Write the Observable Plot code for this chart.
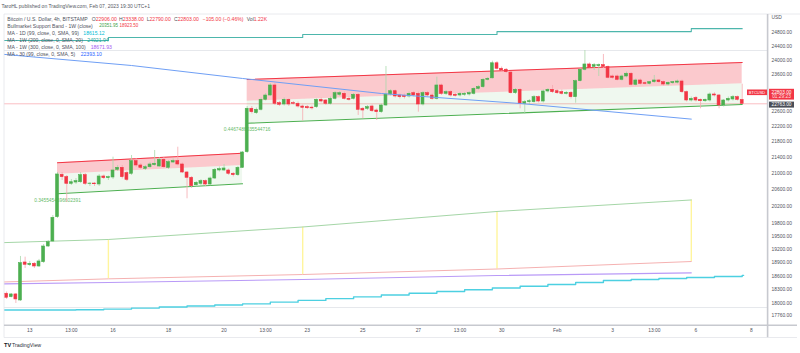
<!DOCTYPE html>
<html>
<head>
<meta charset="utf-8">
<script src="https://cdn.jsdelivr.net/npm/d3@7"></script>
<script src="https://cdn.jsdelivr.net/npm/@observablehq/plot@0.6"></script>
<style>
html,body{margin:0;padding:0;background:#ffffff;}
#chart{width:800px;height:353px;overflow:hidden;}
svg{display:block;}
</style>
</head>
<body>
<div id="chart"></div>
<script>
// ---------------- DATA ----------------
// BTC/USD 4h candles (BITSTAMP), first candle Jan 12 2023 04:00 UTC, one every 4 hours
const firstCandle = "2023-01-12T04:00Z";
const opens = [
18216,18143,18201,18072,18902,18842,18873,18813,18909,19263,
19377,19942,20967,20908,20745,20776,20784,20957,20740,20750,
20728,20925,20883,20900,21091,21141,21007,20992,21307,21199,
21116,21156,21207,21174,21343,21141,21274,21307,21224,21024,
20893,20710,20745,20809,20728,20875,21074,21074,21074,20992,
20957,21141,21535,22669,22551,22642,22911,23028,23302,22819,
22784,22911,22819,22803,22730,22712,22700,22712,22911,22892,
22803,22938,23047,23073,22938,22938,23047,22669,22669,22730,
22623,22578,22757,23055,23145,23028,23020,23001,23091,23073,
22784,23091,23028,22938,23302,23074,23118,23047,23028,23047,
23055,23073,23210,23255,23459,23500,23922,23767,23740,23660,
23091,23183,22803,22846,22846,22982,22865,23137,23183,23145,
23118,23074,23100,22982,23421,23739,23888,23820,23840,23868,
23820,23551,23551,23459,23551,23627,23321,23440,23365,23348,
23393,23440,23393,23329,23366,23380,23412,23118,22892,22960,
22911,22873,22892,23055,23028,22757,22892,22919,22982,22906];
const highs = [
18255,18222,18222,19037,19021,18925,18902,18970,19309,19400,
19982,21024,21024,20950,20850,20875,21024,20999,20776,20776,
20975,20962,20937,21408,21199,21199,21049,21451,21375,21249,
21199,21275,21578,21401,21401,21325,21363,21662,21262,21049,
20925,20801,20850,20838,20912,21124,21162,21224,21111,21024,
21174,21553,22730,22730,22690,22960,23082,23357,23357,22865,
22960,22933,22865,22851,22771,22757,22744,22933,22960,22919,
22987,23137,23137,23123,22987,23082,23082,22703,22757,22771,
22664,22797,23831,23191,23178,23068,23068,23123,23137,23123,
23137,23137,23068,23532,23343,23164,23164,23082,23110,23110,
23137,23246,23302,23496,23523,23981,23970,23817,23775,23691,
23219,23219,22892,22919,23028,23014,23178,23219,23302,23191,
23178,23137,23137,23454,23775,24286,23930,23916,23902,24172,
23845,23593,23593,23593,23677,23663,23482,23482,23400,23412,
23579,23468,23426,23400,23412,23454,23454,23150,22987,23001,
22933,22933,23096,23101,23055,22919,22987,23028,23014,23338];
const lows = [
18094,18126,18008,18050,18769,18813,18769,18791,18880,19240,
19354,19911,20826,20292,20703,20727,20752,20703,20679,20679,
20679,20850,20826,20850,21049,20863,20801,20950,21149,21099,
21074,21124,21174,21149,21124,21099,21249,21187,20999,20381,
20630,20667,20703,20679,20691,20850,21037,21049,20950,20913,
20925,21124,21502,22530,22517,22610,22878,23000,22757,22730,
22744,22730,22771,22690,22339,22650,22637,22677,22824,22757,
22771,22905,23001,22905,22878,22905,22490,22402,22623,22570,
22357,22544,22730,23014,22960,22933,22933,22960,22987,22578,
22744,22987,22905,22905,23028,23028,22987,22987,22987,23001,
23014,23041,23178,23219,23426,23480,23733,23677,23635,23069,
23055,22669,22517,22784,22819,22824,22824,23096,23082,23055,
23041,23041,22933,22819,23398,23705,23761,23719,23551,23775,
23482,23468,23426,23426,23510,23288,23288,23316,23316,23316,
23357,23357,23288,23288,23329,23343,23082,22851,22851,22851,
22669,22838,22851,22987,22669,22717,22851,22878,22878,22790];
const closes = [
18130,18201,18094,18887,18851,18873,18813,18925,19263,19361,
19928,20975,20908,20745,20784,20809,20957,20745,20750,20735,
20925,20883,20908,21074,21141,20908,20843,21307,21199,21141,
21156,21224,21242,21343,21156,21282,21307,21224,21024,20893,
20686,20769,20809,20728,20875,21091,21107,21124,20992,20957,
21141,21527,22669,22578,22642,22911,23028,23302,22803,22776,
22911,22784,22803,22730,22695,22684,22680,22911,22865,22803,
22938,23091,23091,22938,22911,23047,22642,22623,22712,22605,
22578,22757,23055,23145,23001,22982,22985,23073,23028,22784,
23091,23028,22938,23302,23074,23118,23028,23020,23073,23073,
23091,23210,23255,23459,23487,23922,23767,23719,23672,23091,
23183,22803,22846,22873,22982,22865,23137,23183,23118,23091,
23074,23100,22982,23421,23739,23888,23794,23868,23868,23820,
23515,23515,23459,23551,23627,23321,23440,23348,23348,23393,
23440,23393,23329,23376,23393,23412,23118,22892,22938,22892,
22873,22911,23055,23028,22757,22892,22938,22982,22911,22803];

// Weekly indicator points (weekly closes)
const weeklyTimes = ["2023-01-12T00:00Z","2023-01-15T20:00Z","2023-01-22T20:00Z","2023-01-29T20:00Z","2023-02-05T20:00Z"];
const bandGreen = [19350, 19423, 19712, 20077, 20351.95];   // Bullmarket Support Band (SMA 20W)
const bandRed   = [18470, 18540, 18635, 18757, 18923.50];   // Bullmarket Support Band (EMA 21W)
const ma1w100   = [18430, 18460, 18526, 18613, 18671.93];   // MA 1W (300, close, 0, SMA, 100)
const ma1w20    = [24575, 24662, 24748, 24835, 24921.94];   // MA 1W (200, close, 0, SMA, 20)

// MA 1D (99) daily steps, first from Jan 12 16:00 UTC
const ma1dStart = "2023-01-12T16:00Z";
const ma1d = [17870,17870,17876,17889,17910,17932,17953,17976,17999,18036,18074,18111,18150,18189,
              18227,18264,18302,18341,18378,18417,18460,18504,18526,18548,18570,18593,18615.12];

// MA 30 (99, SMA 5)
const ma30Times  = ["2023-01-12T00:00Z","2023-01-16T16:00Z","2023-01-20T16:00Z","2023-01-25T16:00Z","2023-01-30T16:00Z","2023-02-05T20:00Z"];
const ma30Values = [24180, 23859, 23496, 23082, 22811, 22393.10];

// Parallel channel drawings
const channelStart  = ["2023-01-14T00:00Z", "2023-01-20T20:00Z"];
const channelEnd    = ["2023-01-20T16:00Z", "2023-02-07T16:00Z"];
const channelTop    = [[21267, 21509], [23468, 23944]];
const channelMid    = [[20982, 21199], [22873, 23349]];
const channelBottom = [[20502, 20745], [22286, 22784]];
const channelLabels = ["0.3455454696602391", "0.4467486035544716"];

// horizontal levels drawn on the chart
const horizontalLevels = [24286, 17922];

// axes
const priceTicks = [24800,24400,24000,23600,22600,22200,21800,21400,21000,20600,20200,19800,19500,19200,18900,18600,18300,18000,17760];
const timeTicks = ["2023-01-13T00:00Z","2023-01-14T12:00Z","2023-01-16T00:00Z","2023-01-18T00:00Z","2023-01-20T00:00Z","2023-01-21T12:00Z","2023-01-23T00:00Z","2023-01-25T00:00Z","2023-01-27T00:00Z","2023-01-28T12:00Z","2023-01-30T00:00Z","2023-02-01T00:00Z","2023-02-03T00:00Z","2023-02-04T12:00Z","2023-02-06T00:00Z","2023-02-08T00:00Z"];
const timeTickLabels = ["13","13:00","16","18","20","13:00","23","25","27","13:00","30","Feb","3","13:00","6","8"];
const priceAxisTop = 25342, priceAxisBottom = 17545;
const timeDomain = ["2023-01-13T00:00Z", "2023-02-08T00:00Z"];

// ---------------- BUILD ----------------
const HOUR = 3600e3;
const t0 = +new Date(firstCandle);
const candles = opens.map((o, i) => ({t: new Date(t0 + i*4*HOUR), o, h: highs[i], l: lows[i], c: closes[i]}));
const UP = "#4caf50", DOWN = "#f23645";
const last = candles[candles.length - 1];

const weekly = weeklyTimes.map((s, i) => ({t: new Date(s), g: bandGreen[i], r: bandRed[i], p: ma1w100[i], w: ma1w20[i]}));
const tealPts = weekly.map(d => ({t: d.t, v: d.w})).concat([{t: last.t, v: ma1w20[ma1w20.length - 1]}]);
const cyanPts = [{t: new Date("2023-01-12T00:00Z"), v: ma1d[0]}]
  .concat(ma1d.map((v, k) => ({t: new Date(+new Date(ma1dStart) + k*24*HOUR), v})))
  .concat([{t: new Date(+last.t + 1.2*HOUR), v: ma1d[ma1d.length - 1]}]);
const bluePts = ma30Times.map((s, i) => ({t: new Date(s), v: ma30Values[i]}));
const chPts = [];
channelStart.forEach((s, i) => {
  chPts.push({id: i, t: new Date(s), top: channelTop[i][0], mid: channelMid[i][0], bot: channelBottom[i][0], label: channelLabels[i]});
  chPts.push({id: i, t: new Date(channelEnd[i]), top: channelTop[i][1], mid: channelMid[i][1], bot: channelBottom[i][1], label: channelLabels[i]});
});
const chStarts = chPts.filter((d, i) => i % 2 === 0);
const timeTickData = timeTicks.map((s, i) => ({t: new Date(s), label: timeTickLabels[i]}));

const FONT = "'Liberation Sans', Arial, sans-serif";
const TXT = "#50535e";

const plot = Plot.plot({
  width: 800, height: 353,
  marginTop: 14, marginBottom: 28, marginLeft: 4, marginRight: 33,
  style: {fontFamily: FONT, background: "#ffffff"},
  x: {type: "utc", domain: timeDomain.map(s => new Date(s)), range: [29.25, 750.95], axis: null},
  y: {type: "log", domain: [priceAxisBottom, priceAxisTop], axis: null},
  marks: [
    Plot.ruleY(horizontalLevels, {stroke: "#e3e5ea", strokeWidth: 0.9}),
    Plot.ruleY([last.c], {stroke: DOWN, strokeOpacity: 0.4, strokeWidth: 0.8}),
    // bull market support band
    Plot.ruleX(weekly.slice(1), {x: "t", y1: "r", y2: "g", stroke: "#fff59d", strokeWidth: 1.4}),
    Plot.line(weekly, {x: "t", y: "g", stroke: "#a5d6a7", strokeWidth: 1, clip: true}),
    Plot.line(weekly, {x: "t", y: "r", stroke: "#f5b1b1", strokeWidth: 1, clip: true}),
    Plot.line(weekly, {x: "t", y: "p", stroke: "#b99af7", strokeWidth: 1.1, clip: true}),
    Plot.line(cyanPts, {x: "t", y: "v", curve: "step-after", stroke: "#4dd0e1", strokeWidth: 1.4, clip: true}),
    Plot.line(tealPts, {x: "t", y: "v", curve: "step-after", stroke: "#4db6ac", strokeWidth: 1.1, clip: true}),
    // channels
    Plot.areaY(chPts, {x: "t", y1: "mid", y2: "top", z: "id", fill: DOWN, fillOpacity: 0.27}),
    Plot.areaY(chPts, {x: "t", y1: "bot", y2: "mid", z: "id", fill: UP, fillOpacity: 0.09}),
    Plot.line(chPts, {x: "t", y: "top", z: "id", stroke: DOWN, strokeWidth: 1.1}),
    Plot.line(chPts, {x: "t", y: "bot", z: "id", stroke: UP, strokeWidth: 1.1}),
    Plot.text(chStarts, {x: "t", y: "bot", text: "label", dy: 6.3, fill: "#66bb6a", fontSize: 4.8}),
    // candles
    Plot.ruleX(candles, {x: "t", y1: "l", y2: "h", stroke: d => d.c >= d.o ? "#a9d8ab" : "#f6a9b0", strokeWidth: 0.8}),
    Plot.rect(candles, {
      x1: d => new Date(+d.t - 2*HOUR), x2: d => new Date(+d.t + 2*HOUR),
      y1: "o", y2: "c", insetLeft: 0.85, insetRight: 0.85,
      fill: d => d.c >= d.o ? UP : DOWN, stroke: d => d.c >= d.o ? UP : DOWN, strokeWidth: 0.6
    }),
    // MA 30
    Plot.line(bluePts, {x: "t", y: "v", stroke: "#6f9ff5", strokeWidth: 1, clip: true}),
    // axes labels
    Plot.text(priceTicks, {y: d => d, text: d => d.toFixed(2), frameAnchor: "right", dx: 4, textAnchor: "start", fontSize: 4.9, fill: TXT}),
    Plot.text(timeTickData, {x: "t", text: "label", frameAnchor: "bottom", dy: 6.7, fontSize: 4.9, fill: TXT})
  ]
});
document.getElementById("chart").appendChild(plot);

// ---------------- DECORATION (pane frame, legend, tags) ----------------
const svg = d3.select(plot);
function line(x1, y1, x2, y2, c, w) {
  svg.append("line").attr("x1", x1).attr("y1", y1).attr("x2", x2).attr("y2", y2).attr("stroke", c).attr("stroke-width", w);
}
function text(x, y, parts, size, anchor = "start", weight = "normal") {
  const t = svg.append("text").attr("x", x).attr("y", y + 0.36*size).attr("font-size", size)
    .attr("font-family", FONT).attr("text-anchor", anchor).attr("font-weight", weight);
  parts.forEach(([s, c, px]) => { const ts = t.append("tspan").attr("fill", c).text(s); if (px != null) ts.attr("x", px); });
}
line(4, 14, 800, 14, "#e3e5ea", 0.8);
line(4, 14, 4, 337.5, "#e3e5ea", 0.8);
line(4, 325.2, 797, 325.2, "#c7c9cf", 1.6);
line(767.6, 14, 767.6, 337.5, "#c7c9cf", 1.6);
line(4, 337.5, 797, 337.5, "#e3e5ea", 0.8);

text(1.5, 6, [["TaroHL published on TradingView.com, Feb 07, 2023 19:30 UTC+1", "#55585f"]], 5);
const RED = "#f23645";
const fmt = v => v.toFixed(2);
text(7.3, 19, [["Bitcoin / U.S. Dollar, 4h, BITSTAMP", TXT], ["O", TXT, 91.7], [fmt(last.o), RED], ["H", TXT, 119], [fmt(last.h), RED],
  ["L", TXT, 146.7], [fmt(last.l), RED], ["C", TXT, 174], [fmt(last.c), RED], ["\u2212105.00 (\u22120.46%)", RED, 202.7], ["Vol", TXT, 246.7], ["1.22K", RED]], 5.1);
text(7.3, 25.8, [["Bullmarket Support Band - 1W (close)", TXT]], 5.1);
text(99.3, 25.8, [[fmt(bandGreen[4]), "#43a047"]], 4.5);
text(119.6, 25.8, [[fmt(bandRed[4]), RED]], 4.5);
text(7.3, 32.8, [["MA - 1D (99, close, 0, SMA, 99)", TXT], [fmt(ma1d[ma1d.length-1]), "#00bcd4", 83.3]], 5.1);
text(7.3, 40, [["MA - 1W (200, close, 0, SMA, 20)", TXT], [fmt(ma1w20[4]), "#26a69a", 87.3]], 5.1);
text(7.3, 47.3, [["MA - 1W (300, close, 0, SMA, 100)", TXT], [fmt(ma1w100[4]), "#a45cf2", 90.7]], 5.1);
text(7.3, 54.4, [["MA - 30 (99, close, 0, SMA, 5)", TXT], [fmt(ma30Values[ma30Values.length-1]), "#2962ff", 80.7]], 5.1);

text(771.5, 17, [["USD", TXT]], 4.9);

// price tags
svg.append("rect").attr("x", 747).attr("y", 89.5).attr("width", 20).attr("height", 5.6).attr("fill", RED);
text(757, 92.3, [["BTCUSD", "#ffffff"]], 4, "middle");
svg.append("rect").attr("x", 769).attr("y", 88.8).attr("width", 25).attr("height", 10.8).attr("fill", RED);
text(781.5, 91.9, [[fmt(last.c), "#ffffff"]], 4.8, "middle");
text(781.5, 96.6, [["01:29:23", "#ffe0e3"]], 4.8, "middle");
svg.append("rect").attr("x", 769).attr("y", 101.6).attr("width", 25).attr("height", 6).attr("fill", "#4a4e58");
text(781.5, 104.6, [["22763.00", "#ffffff"]], 4.8, "middle");

// logo
text(4, 345, [["TV", "#131722"]], 5.6, "start", "bold");
text(12, 345, [["TradingView", "#2a2e39"]], 5.3);
</script>
</body>
</html>
